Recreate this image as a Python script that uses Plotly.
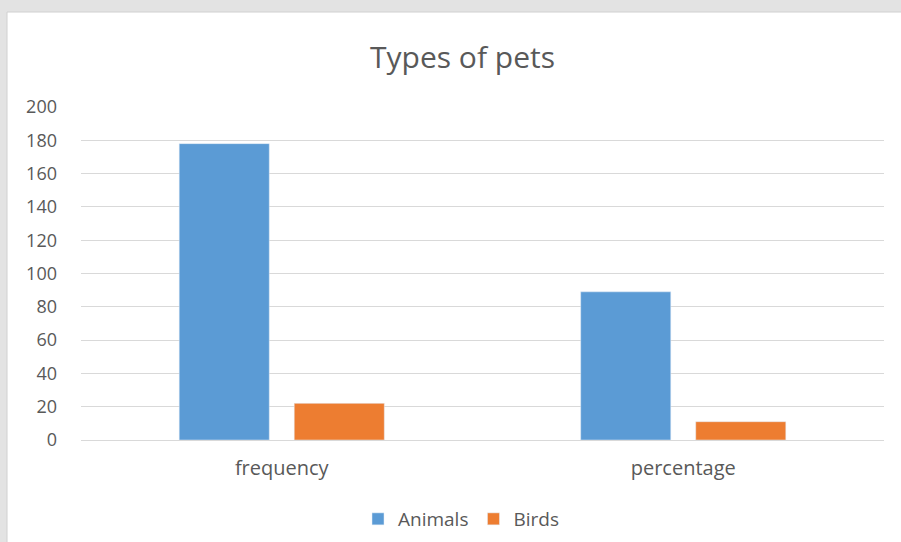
import plotly.graph_objects as go

categories = ["frequency", "percentage"]
animals = [178, 89]
birds = [22, 11]
y_ticks = [0, 20, 40, 60, 80, 100, 120, 140, 160, 180, 200]

W, H = 901, 542
L, R, T, B = 81, 17, 107, 102
pw, ph = W - L - R, H - T - B

def px_x(x):
    return (x - L) / pw

def px_y(y):
    return (H - B - y) / ph

FONT = "Open Sans"
TXT = "#595959"

fig = go.Figure()
fig.add_trace(go.Bar(name="Animals", x=categories, y=animals, marker_color="#5B9BD5"))
fig.add_trace(go.Bar(name="Birds", x=categories, y=birds, marker_color="#ED7D31"))

fig.add_shape(type="rect", xref="paper", yref="paper",
              x0=px_x(7), x1=px_x(920), y0=px_y(560), y1=px_y(12),
              fillcolor="white", line=dict(color="#D0D0D0", width=1), layer="below")

fig.update_layout(
    width=W, height=H,
    margin=dict(l=L, r=R, t=T, b=B, autoexpand=False),
    paper_bgcolor="#E3E3E3",
    plot_bgcolor="rgba(0,0,0,0)",
    barmode="group",
    bargap=0.427,
    bargroupgap=0.217,
    font=dict(family=FONT, color=TXT, size=18),
    title=dict(text="Types of pets", x=462.5 / W, xref="container", xanchor="center",
               y=1 - 57 / H, yref="container", yanchor="middle",
               font=dict(size=30, color=TXT, family=FONT)),
    legend=dict(orientation="h", x=px_x(461), xanchor="center", y=px_y(519), yanchor="middle",
                font=dict(size=19, color=TXT), bgcolor="rgba(0,0,0,0)", itemwidth=30),
    xaxis=dict(showgrid=False, showline=True, linecolor="#D9D9D9", linewidth=1,
               ticks="", tickfont=dict(size=20, color=TXT), ticklabelstandoff=10),
    yaxis=dict(range=[0, 200], tickvals=y_ticks, showgrid=True, gridcolor="#D9D9D9",
               gridwidth=1, zeroline=False, showline=False, ticks="",
               tickfont=dict(size=18, color=TXT), ticklabelstandoff=23),
)

fig.write_html("out.html", config={"displayModeBar": False},
               post_script="document.body.style.margin='0';document.body.style.overflow='hidden';")
